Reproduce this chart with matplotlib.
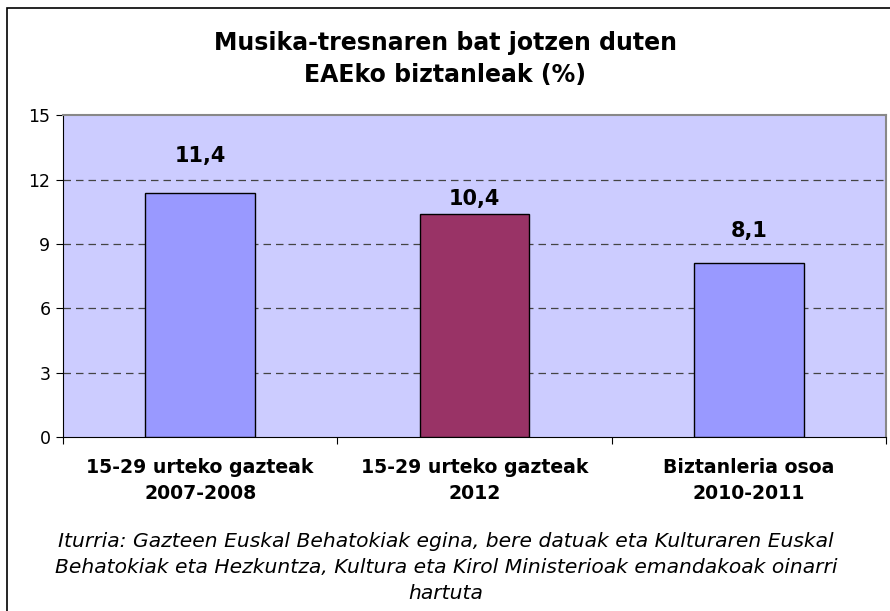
import matplotlib.pyplot as plt
from matplotlib.patches import Rectangle

categories = ["15-29 urteko gazteak\n2007-2008", "15-29 urteko gazteak\n2012",
              "Biztanleria osoa\n2010-2011"]
values = [11.4, 10.4, 8.1]
value_labels = ["11,4", "10,4", "8,1"]
bar_colors = ["#9999FF", "#993366", "#9999FF"]
yticks = [0, 3, 6, 9, 12, 15]

title = "Musika-tresnaren bat jotzen duten\nEAEko biztanleak (%)"
source = ("Iturria: Gazteen Euskal Behatokiak egina, bere datuak eta Kulturaren Euskal\n"
          "Behatokiak eta Hezkuntza, Kultura eta Kirol Ministerioak emandakoak oinarri\n"
          "hartuta")

# label offsets above bar tops, in pixels (labels were hand-placed in the original)
label_offsets = [37, 15, 32]

fig = plt.figure(figsize=(8.9, 6.11), dpi=100)
ax = fig.add_axes([63 / 890, 1 - 437 / 611, (886 - 63) / 890, (437 - 115.5) / 611])

x = list(range(len(categories)))
ax.bar(x, values, width=0.4, color=bar_colors, edgecolor="black", linewidth=1, zorder=3)

ax.set_facecolor("#CCCCFF")
ax.set_xlim(-0.5, len(categories) - 0.5)
ax.set_ylim(0, 15)
ax.set_yticks(yticks)
ax.set_yticklabels([str(t) for t in yticks], fontsize=12.5)
for t in yticks[1:-1]:
    ax.axhline(t, color="#444444", linestyle=(0, (6, 4)), linewidth=0.9, zorder=1)

# category ticks sit between the groups
ax.set_xticks([i + 0.5 for i in x[:-1]] + [-0.5, len(categories) - 0.5])
ax.set_xticklabels([])
ax.set_xticks(x, minor=True)
ax.set_xticklabels(categories, minor=True, fontsize=13.6, fontweight="bold",
                   linespacing=1.5)
ax.tick_params(axis="x", which="minor", length=0, pad=15)
ax.tick_params(axis="x", which="major", length=5, color="black")
ax.tick_params(axis="y", length=5, pad=4)

for side in ["top", "right"]:
    ax.spines[side].set_color("#888888")
    ax.spines[side].set_linewidth(1.5)
for side in ["left", "bottom"]:
    ax.spines[side].set_color("black")

for xi, v, lab, off in zip(x, values, value_labels, label_offsets):
    ax.annotate(lab, (xi, v), xytext=(0, off), textcoords="offset pixels",
                ha="center", va="center", fontsize=15, fontweight="bold")

fig.text(445 / 890, 1 - 59 / 611, title, ha="center", va="center",
         fontsize=17, fontweight="bold", linespacing=1.45)
fig.text(446 / 890, 1 - 567.5 / 611, source, ha="center", va="center",
         fontsize=14.6, style="italic", linespacing=1.44)

# outer chart frame
fig.patches.append(Rectangle((7 / 890, -0.01), 1.0, 1 - 8 / 611 + 0.01,
                             transform=fig.transFigure, fill=False,
                             edgecolor="black", linewidth=1.2))

fig.savefig("out.png", dpi=100)
